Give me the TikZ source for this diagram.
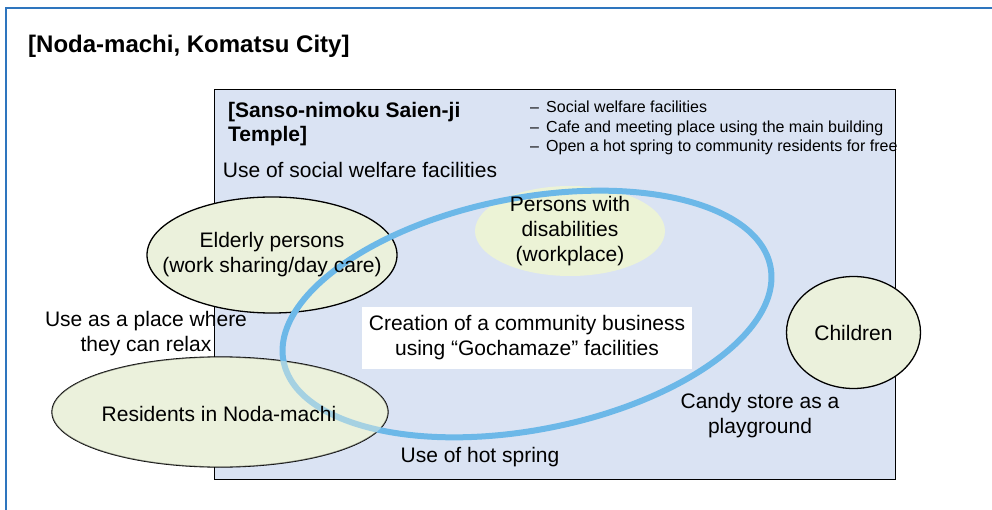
\documentclass[tikz,border=0pt]{standalone}
\usepackage{fontspec}
\setmainfont{Liberation Sans}
\usetikzlibrary{shapes.geometric}
\definecolor{boxblue}{RGB}{218,227,243}
\definecolor{ellgreen}{RGB}{235,241,220}
\definecolor{pwdgreen}{RGB}{236,243,214}
\definecolor{ringblue}{RGB}{108,184,232}
\definecolor{frameblue}{RGB}{46,117,190}
\newcommand{\fsz}[2]{\fontsize{#1}{#2}\selectfont}
\begin{document}
\begin{tikzpicture}[x=1pt,y=-1pt,
  oval/.style={ellipse, draw=black, line width=1.3pt, fill=ellgreen, inner sep=0pt},
  lbl/.style={align=center, inner sep=0pt, font=\fsz{21}{25}},
]
\useasboundingbox (0,0) rectangle (992,510);
\clip (0,0) rectangle (992,510);
\fill[white] (0,0) rectangle (992,510);
\coordinate (fa) at (6,515);
\coordinate (fb) at (6,8);
\coordinate (fc) at (998,8);
\draw[frameblue, line width=2pt] (fa) -- (fb) -- (fc);

\node[draw=black, line width=1.3pt, fill=boxblue, minimum width=681pt, minimum height=390pt, anchor=north west, inner sep=0pt] (temple) at (214,89) {};

\node[anchor=west, inner sep=0pt, font=\bfseries\fsz{24}{28}] (title) at (28,46) {[Noda-machi, Komatsu City]};
\node[anchor=west, align=left, inner sep=0pt, font=\bfseries\fsz{21}{23.5}] (tname) at (228,124) {[Sanso-nimoku Saien-ji\\Temple]};
\node[anchor=west, align=left, inner sep=0pt, font=\fsz{16}{19.5}] (bul) at (530,128) {– \,Social welfare facilities\\– \,Cafe and meeting place using the main building\\– \,Open a hot spring to community residents for free};
\node[lbl] (usw) at (360,170) {Use of social welfare facilities};

\node[ellipse, fill=pwdgreen, minimum width=190pt, minimum height=90pt, inner sep=0pt] (pwd) at (570,231) {};
\node[oval, minimum width=250pt, minimum height=116pt] (eld) at (272,255) {};
\node[oval, minimum width=336pt, minimum height=110pt] (res) at (220,412) {};
\node[oval, minimum width=134pt, minimum height=112pt] (chi) at (853.5,332.5) {};

\node[ellipse, draw=ringblue, line width=6pt, minimum width=496pt, minimum height=232pt, rotate=11, inner sep=0pt] (ring) at (527,314) {};
\node[ellipse, fill=ellgreen, fill opacity=0.45, minimum width=336pt, minimum height=110pt, inner sep=0pt] (resov) at (res.center) {};

\node[lbl, fill=white, minimum width=330pt, minimum height=62pt] (cb) at (527,338) {Creation of a community business\\using “Gochamaze” facilities};

\node[lbl] (eldt) at (eld.center) {Elderly persons\\(work sharing/day care)};
\node[lbl] (pwdt) at (570,231) {Persons with\\disabilities\\(workplace)};
\node[lbl] (chit) at (chi.center) {Children};
\node[lbl] (rest) at (219,414) {Residents in Noda-machi};
\node[lbl] (relax) at (146,334) {Use as a place where\\they can relax};
\node[lbl] (candy) at (760,416) {Candy store as a\\playground};
\node[lbl] (hot) at (480,457) {Use of hot spring};
\end{tikzpicture}
\end{document}
